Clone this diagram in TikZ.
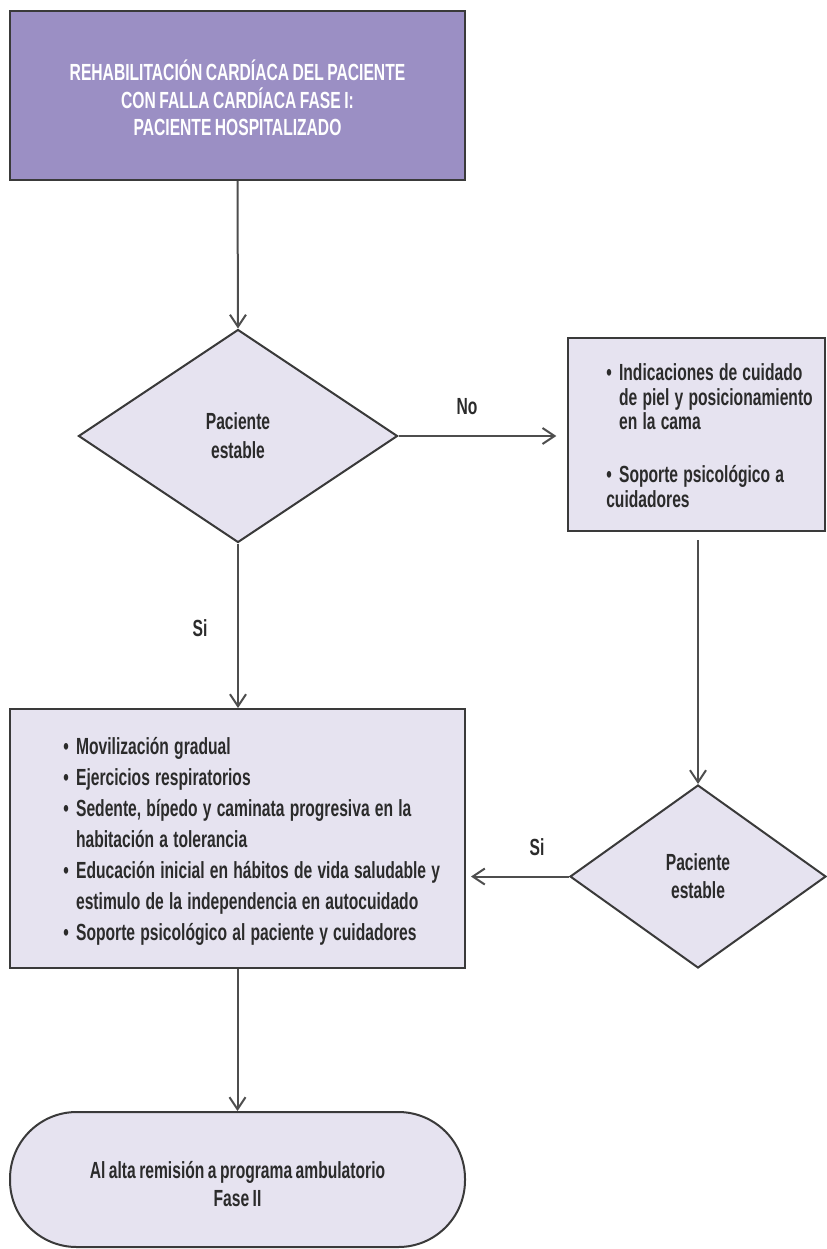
\documentclass[tikz,border=0pt]{standalone}
\usepackage{fontspec}
\newfontfamily\cond{Liberation Sans}[FakeStretch=0.67,WordSpace=0.8]
\usetikzlibrary{shapes.geometric,arrows.meta}
\definecolor{topfill}{HTML}{9B8FC4}
\definecolor{lightfill}{HTML}{E6E3F0}
\definecolor{edgecol}{HTML}{3A3A3A}
\definecolor{txtcol}{HTML}{2B2B2B}
\newcommand{\bitem}[1]{\par\noindent\hangindent=0.55em\hangafter=1\makebox[0.55em][l]{\textbullet}#1}
\newcommand{\listsetup}{\spaceskip=3.9pt\relax\xspaceskip=3.9pt\relax\hyphenpenalty=10000\relax}
\begin{document}
\begin{tikzpicture}[x=0.75pt,y=-0.75pt,
  every node/.style={font=\cond\bfseries\fontsize{17.5}{21}\selectfont, text=txtcol},
  boxshape/.style={draw=edgecol, line width=1.5pt, fill=lightfill, inner sep=0pt},
  decision/.style={diamond, draw=edgecol, line width=1.5pt, fill=lightfill, inner sep=0pt, align=center},
  conn/.style={draw=edgecol!90, line width=1.5pt, -{Straight Barb[length=9pt,width=12pt,line width=1.5pt]}},
  lbl/.style={inner sep=0pt},
  listtext/.style={anchor=west, inner sep=0pt, align=left}
]
\useasboundingbox (0,0) rectangle (826,1249);
% top box
\node[boxshape, fill=topfill, minimum width=341.25pt, minimum height=126.75pt] (top) at (237.5,95.5) {};
\node[align=center, text=white, font=\cond\bfseries\fontsize{17.5}{20.6}\selectfont] (toptxt) at (237.5,98)
  {REHABILITACIÓN CARDÍACA DEL PACIENTE\\CON FALLA CARDÍACA FASE I:\\PACIENTE HOSPITALIZADO};
% decision 1
\node[decision, minimum width=239.25pt, minimum height=159.75pt, font=\cond\bfseries\fontsize{17.5}{21.75}\selectfont] (d1) at (238,436) {Paciente\\estable};
% right box
\node[boxshape, minimum width=192.75pt, minimum height=144.75pt] (rbox) at (696.5,434.5) {};
\node[listtext, text width=175pt, font=\cond\bfseries\fontsize{17.5}{18.4}\selectfont] (rtxt) at (606,432)
  {\listsetup\bitem{Indicaciones de cuidado\newline de piel y posicionamiento\newline en la cama}\par\vspace{21.25pt}%
   \bitem{Soporte psicológico a\newline cuidadores}};
% decision 2
\node[decision, minimum width=192pt, minimum height=137.25pt, font=\cond\bfseries\fontsize{17.5}{21}\selectfont] (d2) at (698,876.5) {Paciente\\estable};
% bullet box
\node[boxshape, minimum width=341.25pt, minimum height=194.25pt] (bbox) at (237.5,838.5) {};
\node[listtext, text width=320pt, font=\cond\bfseries\fontsize{17.5}{23.25}\selectfont] (btxt) at (63,834)
  {\listsetup\bitem{Movilización gradual}
   \bitem{Ejercicios respiratorios}
   \bitem{Sedente, bípedo y caminata progresiva en la\newline habitación a tolerancia}
   \bitem{Educación inicial en hábitos de vida saludable y\newline estimulo de la independencia en autocuidado}
   \bitem{Soporte psicológico al paciente y cuidadores}};
% terminal
\node[boxshape, rounded corners=50pt, minimum width=341.25pt, minimum height=101.25pt] (term) at (237.5,1179.5) {};
\node[align=center, font=\cond\bfseries\fontsize{17.5}{21}\selectfont] (termtxt) at (237.5,1184)
  {Al alta remisión a programa ambulatorio\\Fase II};
% connectors
\draw[conn] (top.south) -- (d1.north);
\draw[conn, shorten >=8pt] (d1.east) -- (d1.east -| rbox.west);
\draw[conn, shorten <=6pt] (rbox.south -| d2.north) -- (d2.north);
\draw[conn] (d1.south) -- (d1.south |- bbox.north);
\draw[conn, shorten >=3.75pt] (d2.west) -- (d2.west -| bbox.east);
\draw[conn] (bbox.south) -- (term.north);
% labels
\node[lbl] (lno) at (467,407) {No};
\node[lbl] (lsi1) at (200,628) {Si};
\node[lbl] (lsi2) at (537,847) {Si};
\end{tikzpicture}
\end{document}
